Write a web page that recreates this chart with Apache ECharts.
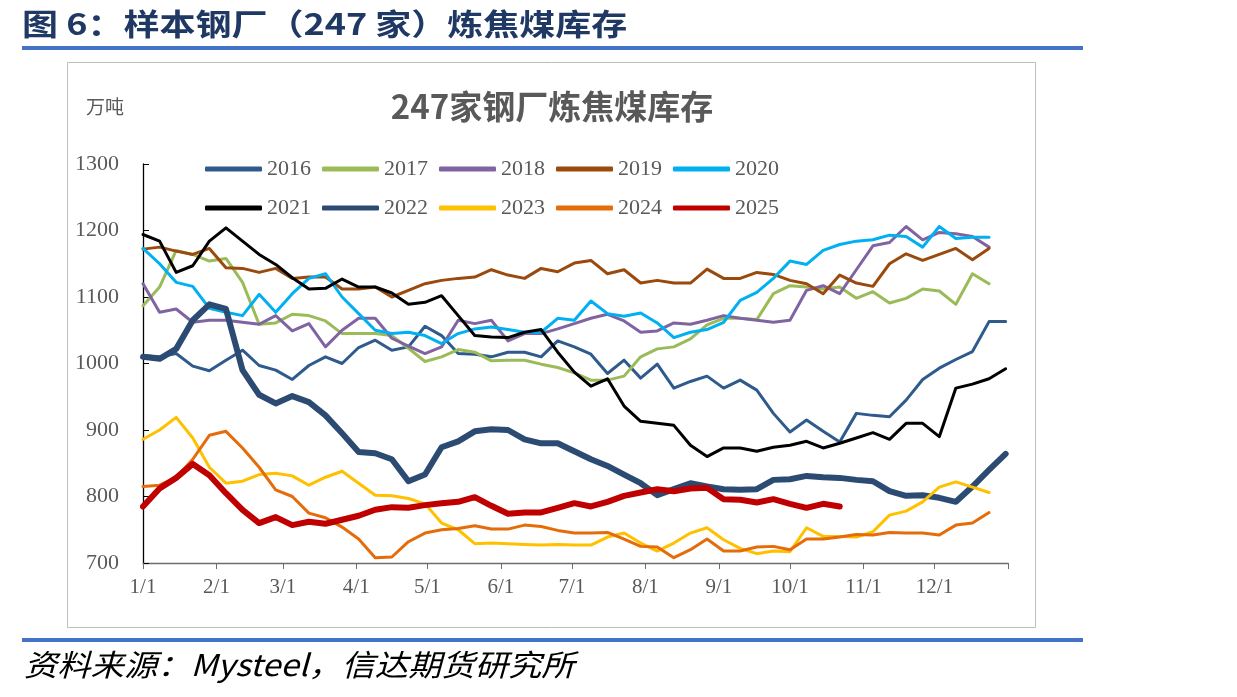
<!DOCTYPE html>
<html>
<head>
<meta charset="utf-8">
<script src="https://cdn.jsdelivr.net/npm/echarts@6/dist/echarts.min.js"></script>
<style>
html, body { margin: 0; padding: 0; background: #fff; }
#chart { width: 1237px; height: 697px; }
</style>
</head>
<body>
<div id="chart"></div>
<script>
// weekly coking coal stock of 247 sample mills, 10k t, one value per week from 1/1
var years = ['2016', '2017', '2018', '2019', '2020', '2021', '2022', '2023', '2024', '2025'];
var colors = ['#2e5a8c', '#9bbb59', '#8064a2', '#9a4a0c', '#00b0f0', '#000000', '#2c4b73', '#ffc000', '#e46c0a', '#c00000'];
var widths = [3, 3, 3, 3, 3, 3, 6, 3, 3, 6];

var monthDays = [0, 31, 59, 90, 120, 151, 181, 212, 243, 273, 304, 334];
var monthLabels = ['1/1', '2/1', '3/1', '4/1', '5/1', '6/1', '7/1', '8/1', '9/1', '10/1', '11/1', '12/1'];
var yearEnd = 365;

var v2016 = [1012, 1010, 1015, 996, 989, 1005, 1020, 997, 990, 976, 997, 1010, 1000, 1024, 1035, 1020, 1025, 1056, 1042, 1015,
  1014, 1010, 1017, 1017, 1010, 1034, 1025, 1014, 985, 1005, 978, 999, 963, 973, 981, 963, 975, 960, 925, 897,
  915, 898, 882, 925, 922, 920, 945, 976, 993, 1006, 1018, 1063, 1063];
var v2017 = [1087, 1115, 1170, 1164, 1154, 1158, 1122, 1059, 1061, 1074, 1072, 1064, 1045, 1045, 1045, 1042, 1023, 1003, 1010, 1021,
  1017, 1004, 1005, 1005, 999, 994, 986, 975, 975, 981, 1010, 1022, 1025, 1037, 1058, 1068, 1068, 1066, 1105, 1117,
  1115, 1112, 1115, 1098, 1108, 1091, 1098, 1112, 1109, 1089, 1135, 1120];
var v2018 = [1120, 1077, 1082, 1062, 1065, 1065, 1062, 1059, 1072, 1049, 1060, 1025, 1050, 1068, 1068, 1038, 1026, 1015, 1025, 1065,
  1060, 1065, 1034, 1045, 1045, 1052, 1060, 1068, 1074, 1064, 1047, 1049, 1061, 1059, 1065, 1072, 1068, 1065, 1062, 1065,
  1110, 1117, 1105, 1141, 1177, 1182, 1206, 1186, 1197, 1195, 1191, 1175];
var v2019 = [1172, 1175, 1169, 1164, 1173, 1144, 1143, 1137, 1143, 1128, 1130, 1130, 1112, 1112, 1115, 1100, 1110, 1120, 1125, 1128,
  1130, 1141, 1133, 1128, 1143, 1138, 1151, 1155, 1135, 1141, 1121, 1125, 1121, 1121, 1142, 1128, 1128, 1137, 1134, 1125,
  1120, 1105, 1133, 1121, 1116, 1150, 1165, 1155, 1164, 1173, 1156, 1173];
var v2020 = [1173, 1150, 1122, 1116, 1083, 1077, 1072, 1104, 1077, 1105, 1128, 1135, 1100, 1075, 1050, 1045, 1047, 1042, 1030, 1045,
  1052, 1055, 1051, 1047, 1047, 1068, 1065, 1094, 1075, 1071, 1076, 1061, 1039, 1047, 1051, 1062, 1095, 1107, 1128, 1154,
  1149, 1170, 1179, 1184, 1186, 1193, 1191, 1175, 1206, 1188, 1190, 1190];
var v2021 = [1194, 1184, 1137, 1147, 1184, 1204, 1184, 1164, 1149, 1129, 1112, 1113, 1127, 1115, 1115, 1106, 1089, 1092, 1102, 1072,
  1042, 1040, 1039, 1047, 1051, 1017, 987, 966, 977, 936, 913, 910, 907, 877, 860, 873, 873, 868, 874, 877,
  883, 873, 880, 888, 896, 886, 910, 910, 890, 963, 969, 977, 992];
var v2022 = [1010, 1007, 1022, 1065, 1089, 1082, 990, 953, 940, 951, 942, 922, 895, 867, 865, 856, 823, 833, 874, 883,
  898, 901, 900, 886, 880, 880, 868, 856, 846, 833, 820, 802, 811, 820, 815, 811, 810, 811, 825, 826,
  831, 829, 828, 825, 823, 808, 801, 802, 798, 792, 815, 840, 864];
var v2023 = [886, 900, 919, 888, 844, 820, 823, 833, 835, 831, 817, 829, 838, 820, 802, 801, 797, 789, 760, 750,
  729, 730, 729, 728, 727, 728, 727, 727, 739, 745, 730, 718, 730, 745, 753, 735, 722, 714, 718, 717,
  753, 740, 740, 739, 747, 772, 778, 792, 814, 822, 814, 806];
var v2024 = [815, 817, 829, 856, 892, 898, 873, 844, 810, 800, 775, 768, 754, 736, 708, 709, 732, 745, 750, 752,
  756, 751, 751, 757, 755, 749, 745, 745, 746, 736, 725, 724, 708, 720, 736, 718, 718, 724, 725, 720,
  736, 736, 739, 743, 742, 746, 745, 745, 742, 757, 760, 776];
var v2025 = [785, 812, 828, 849, 832, 805, 780, 760, 769, 757, 762, 759, 765, 771, 780, 784, 783, 787, 790, 792,
  799, 786, 774, 776, 776, 783, 790, 785, 792, 801, 806, 811, 808, 812, 813, 796, 795, 791, 796, 789,
  783, 789, 785];

var values = [v2016, v2017, v2018, v2019, v2020, v2021, v2022, v2023, v2024, v2025];

var chart = echarts.init(document.getElementById('chart'));

var series = years.map(function (y, k) {
  return {
    name: y,
    type: 'line',
    symbol: 'none',
    animation: false,
    color: colors[k],
    lineStyle: { width: widths[k], color: colors[k], join: 'round', cap: 'round' },
    data: values[k].map(function (v, i) { return [i * 7, v]; })
  };
});

var serif = '"Liberation Serif", "Times New Roman", serif';
var cjk = '"Noto Sans CJK SC", sans-serif';

function legendRow(names, top) {
  return {
    data: names,
    left: 205,
    top: top,
    padding: 0,
    itemWidth: 57,
    itemHeight: 5,
    itemGap: 11,
    icon: 'roundRect',
    textStyle: { fontFamily: serif, fontSize: 22, color: '#595959' }
  };
}

chart.setOption({
  backgroundColor: '#fff',
  animation: false,
  grid: { left: 143, right: 229, top: 164, bottom: 134 },
  legend: [legendRow(years.slice(0, 5), 158), legendRow(years.slice(5), 197)],
  xAxis: {
    type: 'value',
    min: 0,
    max: yearEnd,
    splitLine: { show: false },
    axisLine: { lineStyle: { color: '#6d6d6d', width: 1.3 } },
    axisTick: { customValues: monthDays.concat([yearEnd]), length: 6, lineStyle: { color: '#6d6d6d' } },
    axisLabel: {
      customValues: monthDays,
      margin: 14,
      fontFamily: serif,
      fontSize: 21,
      color: '#595959',
      formatter: function (v) {
        var i = monthDays.indexOf(v);
        return i < 0 ? '' : monthLabels[i];
      }
    }
  },
  yAxis: {
    type: 'value',
    min: 700,
    max: 1300,
    interval: 100,
    splitLine: { show: false },
    axisLine: { show: true, lineStyle: { color: '#000', width: 1.3 } },
    axisTick: { show: true, inside: true, length: 6, lineStyle: { color: '#000' } },
    axisLabel: {
      margin: 24, fontFamily: serif, fontSize: 22, color: '#595959',
      formatter: function (v) { return String(v); }
    }
  },
  graphic: [
    {
      type: 'text', left: 22, top: 9, scaleX: 1.2,
      style: { text: '图 6：样本钢厂（247 家）炼焦煤库存', font: 'bold 30px ' + cjk, fill: '#1f3864' }
    },
    { type: 'rect', shape: { x: 22, y: 46, width: 1061, height: 4 }, style: { fill: '#4472c4' } },
    { type: 'rect', shape: { x: 67.5, y: 62.5, width: 968, height: 565 }, style: { fill: 'none', stroke: '#bfbfbf', lineWidth: 1 } },
    { type: 'rect', shape: { x: 22, y: 638, width: 1061, height: 4 }, style: { fill: '#4472c4' } },
    {
      type: 'text', left: 24, top: 650, scaleX: 1.11,
      style: { text: '资料来源：Mysteel，信达期货研究所', font: 'italic 30px ' + cjk, fill: '#000' }
    },
    {
      type: 'text', x: 552, y: 106,
      style: { text: '247家钢厂炼焦煤库存', font: 'bold 33px ' + cjk, fill: '#595959', align: 'center', verticalAlign: 'middle' }
    },
    {
      type: 'text', x: 86, y: 107,
      style: { text: '万吨', font: '19px ' + cjk, fill: '#595959', verticalAlign: 'middle' }
    }
  ],
  series: series
});
</script>
</body>
</html>
